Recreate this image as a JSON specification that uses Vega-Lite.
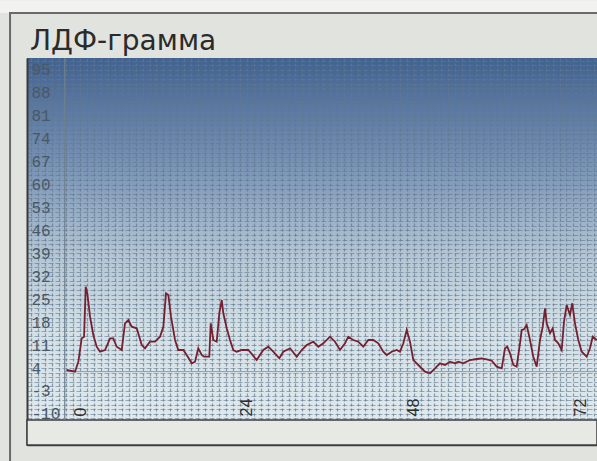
{
  "$schema": "https://vega.github.io/schema/vega-lite/v6.json",
  "width": 570,
  "height": 387,
  "autosize": {"type": "none"},
  "padding": {"left": 27, "top": 58, "right": 0, "bottom": 16},
  "background": "#e1e3df",
  "title": {"text": "ЛДФ-грамма", "anchor": "start", "frame": "group", "font": "DejaVu Sans", "fontSize": 28, "fontWeight": "normal", "color": "#2b2b2b", "offset": -3, "dx": 3, "dy": 53},
  "view": {
    "stroke": null,
    "fill": {"gradient": "linear", "x1": 0, "y1": 0, "x2": 0, "y2": 1, "stops": [
      {"offset": 0, "color": "#41618f"},
      {"offset": 0.28, "color": "#7893b5"},
      {"offset": 0.5, "color": "#b2c4d3"},
      {"offset": 0.7, "color": "#d3e0e6"},
      {"offset": 1, "color": "#e3ecef"}
    ]}
  },
  "datasets": {
    "trace": [
      {"t": -1.91, "v": 3.39}, {"t": -0.72, "v": 2.87}, {"t": -0.24, "v": 5.92}, {"t": 0.24, "v": 13.07},
      {"t": 0.58, "v": 13.56}, {"t": 0.82, "v": 28.82}, {"t": 1.05, "v": 26.81}, {"t": 1.44, "v": 19.66},
      {"t": 1.91, "v": 14.08}, {"t": 2.40, "v": 10.50}, {"t": 2.88, "v": 8.98}, {"t": 3.60, "v": 9.50},
      {"t": 4.32, "v": 13.07}, {"t": 4.79, "v": 13.07}, {"t": 5.28, "v": 10.50}, {"t": 6.00, "v": 9.50},
      {"t": 6.47, "v": 17.65}, {"t": 6.95, "v": 18.66}, {"t": 7.44, "v": 16.61}, {"t": 8.16, "v": 16.12},
      {"t": 8.88, "v": 11.02}, {"t": 9.35, "v": 10.02}, {"t": 10.07, "v": 12.03}, {"t": 10.79, "v": 12.03},
      {"t": 11.51, "v": 13.56}, {"t": 11.99, "v": 16.61}, {"t": 12.37, "v": 26.81}, {"t": 12.71, "v": 26.29},
      {"t": 13.09, "v": 19.66}, {"t": 13.67, "v": 12.55}, {"t": 14.14, "v": 9.50}, {"t": 14.86, "v": 9.50},
      {"t": 15.35, "v": 7.97}, {"t": 16.07, "v": 5.44}, {"t": 16.55, "v": 5.92}, {"t": 17.02, "v": 10.02},
      {"t": 17.51, "v": 7.97}, {"t": 17.84, "v": 7.45}, {"t": 18.60, "v": 7.45}, {"t": 18.81, "v": 17.65},
      {"t": 19.18, "v": 12.55}, {"t": 19.67, "v": 12.03}, {"t": 20.04, "v": 20.70}, {"t": 20.39, "v": 24.76},
      {"t": 20.62, "v": 20.70}, {"t": 21.11, "v": 16.12}, {"t": 21.58, "v": 12.55}, {"t": 22.06, "v": 9.50},
      {"t": 22.55, "v": 8.98}, {"t": 23.27, "v": 9.50}, {"t": 24.22, "v": 9.50}, {"t": 25.42, "v": 6.44},
      {"t": 26.37, "v": 9.50}, {"t": 27.09, "v": 10.50}, {"t": 27.81, "v": 8.98}, {"t": 28.68, "v": 6.96},
      {"t": 29.25, "v": 8.98}, {"t": 30.22, "v": 10.02}, {"t": 31.18, "v": 7.45}, {"t": 31.90, "v": 9.50},
      {"t": 32.62, "v": 11.02}, {"t": 33.57, "v": 12.03}, {"t": 34.29, "v": 10.50}, {"t": 35.01, "v": 11.54},
      {"t": 35.97, "v": 13.56}, {"t": 36.69, "v": 12.03}, {"t": 37.41, "v": 9.50}, {"t": 38.13, "v": 11.54},
      {"t": 38.60, "v": 13.56}, {"t": 39.32, "v": 12.55}, {"t": 40.04, "v": 12.03}, {"t": 40.76, "v": 10.50},
      {"t": 41.48, "v": 12.55}, {"t": 42.20, "v": 12.55}, {"t": 42.92, "v": 11.54}, {"t": 43.64, "v": 8.98},
      {"t": 44.13, "v": 7.97}, {"t": 44.85, "v": 8.98}, {"t": 45.57, "v": 9.50}, {"t": 46.04, "v": 8.98},
      {"t": 46.52, "v": 11.54}, {"t": 47.01, "v": 15.60}, {"t": 47.48, "v": 12.03}, {"t": 47.96, "v": 6.44},
      {"t": 48.68, "v": 4.92}, {"t": 49.64, "v": 2.87}, {"t": 50.36, "v": 2.38}, {"t": 51.08, "v": 3.91},
      {"t": 51.80, "v": 5.44}, {"t": 52.52, "v": 4.92}, {"t": 53.24, "v": 5.92}, {"t": 53.96, "v": 5.44},
      {"t": 54.43, "v": 5.92}, {"t": 55.15, "v": 5.44}, {"t": 56.12, "v": 6.44}, {"t": 57.08, "v": 6.75},
      {"t": 57.80, "v": 6.96}, {"t": 58.52, "v": 6.66}, {"t": 59.24, "v": 6.23}, {"t": 59.96, "v": 4.40},
      {"t": 60.68, "v": 3.91}, {"t": 61.15, "v": 10.02}, {"t": 61.48, "v": 10.50}, {"t": 61.87, "v": 8.49},
      {"t": 62.35, "v": 4.92}, {"t": 62.83, "v": 4.40}, {"t": 63.31, "v": 11.54}, {"t": 63.55, "v": 15.60},
      {"t": 63.88, "v": 15.82}, {"t": 64.27, "v": 17.13}, {"t": 64.65, "v": 13.56}, {"t": 65.22, "v": 7.45},
      {"t": 65.71, "v": 4.40}, {"t": 66.19, "v": 12.55}, {"t": 66.58, "v": 16.61}, {"t": 66.91, "v": 22.23},
      {"t": 67.15, "v": 17.65}, {"t": 67.63, "v": 14.60}, {"t": 68.01, "v": 16.12}, {"t": 68.35, "v": 12.55},
      {"t": 68.82, "v": 11.54}, {"t": 69.31, "v": 9.50}, {"t": 69.64, "v": 18.14}, {"t": 70.03, "v": 23.24},
      {"t": 70.50, "v": 20.18}, {"t": 70.83, "v": 23.76}, {"t": 71.22, "v": 17.65}, {"t": 71.70, "v": 12.55},
      {"t": 72.19, "v": 8.98}, {"t": 72.91, "v": 7.45}, {"t": 73.38, "v": 10.02}, {"t": 73.77, "v": 13.56},
      {"t": 74.35, "v": 12.55}
    ],
    "strip": [{"t1": -7.63, "t2": 74.39, "v1": -19.51, "v2": -11.88}],
    "topband": [{"t1": -12.5, "t2": 80, "v1": 112.4, "v2": 116.3}],
    "frame": [{"t1": -10.07, "t2": 80, "v1": -28, "v2": 112.4}],
    "vref": [{"t": -2.2, "v1": -11.88, "v2": 98.66}],
    "href": [{"t1": -2.2, "t2": 74.39, "v": 2.9}]
  },
  "layer": [
    {
      "data": {"name": "strip"},
      "mark": {"type": "rect", "fill": "#e7e9e5", "stroke": "#3c3c3c", "strokeWidth": 1.5},
      "encoding": {
        "x": {"field": "t1", "type": "quantitative", "scale": {"domain": [-7.63, 74.39], "nice": false, "zero": false},
          "axis": {"orient": "bottom", "title": null, "tickCount": 500, "values": [-7,-6,-5,-4,-3,-2,-1,0,1,2,3,4,5,6,7,8,9,10,11,12,13,14,15,16,17,18,19,20,21,22,23,24,25,26,27,28,29,30,31,32,33,34,35,36,37,38,39,40,41,42,43,44,45,46,47,48,49,50,51,52,53,54,55,56,57,58,59,60,61,62,63,64,65,66,67,68,69,70,71,72,73,74],
            "labelExpr": "datum.value % 24 === 0 ? '' + datum.value : ''", "labelAngle": -90, "labelAlign": "left", "labelBaseline": "middle",
            "labelPadding": -29, "labelFont": "Liberation Sans", "labelFontSize": 16, "labelColor": "#2e2e2e",
            "labelOverlap": false, "labelFlush": false, "labelBound": false, "ticks": false,
            "domain": true, "domainColor": "#3c3c3c", "domainWidth": 1.5,
            "grid": true, "gridColor": "#62788e", "gridOpacity": 0.7, "gridDash": [3, 2], "gridWidth": 1.2}},
        "x2": {"field": "t2"},
        "y": {"field": "v1", "type": "quantitative", "scale": {"domain": [-19.51, 98.66], "nice": false, "zero": false},
          "axis": {"orient": "left", "title": null, "tickCount": 500, "values": [-11.4,-10,-8.6,-7.2,-5.8,-4.4,-3,-1.6,-0.2,1.2,2.6,4,5.4,6.8,8.2,9.6,11,12.4,13.8,15.2,16.6,18,19.4,20.8,22.2,23.6,25,26.4,27.8,29.2,30.6,32,33.4,34.8,36.2,37.6,39,40.4,41.8,43.2,44.6,46,47.4,48.8,50.2,51.6,53,54.4,55.8,57.2,58.6,60,61.4,62.8,64.2,65.6,67,68.4,69.8,71.2,72.6,74,75.4,76.8,78.2,79.6,81,82.4,83.8,85.2,86.6,88,89.4,90.8,92.2,93.6,95,96.4,97.8],
            "labelExpr": "abs((datum.value + 10) / 7 - round((datum.value + 10) / 7)) < 0.01 ? '' + round(datum.value) : ''",
            "labelAlign": "left", "labelBaseline": "middle", "labelPadding": -4, "labelFont": "Liberation Mono", "labelFontSize": 16,
            "labelColor": "#4a5866", "labelOverlap": false, "labelFlush": false, "labelBound": false, "ticks": false,
            "domain": true, "domainColor": "#3a3a3a", "domainWidth": 2,
            "grid": true, "gridColor": "#62788e", "gridOpacity": 0.6, "gridDash": [5, 2], "gridWidth": 1}},
        "y2": {"field": "v2"}
      }
    },
    {
      "data": {"name": "topband"},
      "mark": {"type": "rect", "fill": "#f2f2f0", "stroke": null},
      "encoding": {
        "x": {"field": "t1", "type": "quantitative"},
        "x2": {"field": "t2"},
        "y": {"field": "v1", "type": "quantitative"},
        "y2": {"field": "v2"}
      }
    },
    {
      "data": {"name": "frame"},
      "mark": {"type": "rect", "fillOpacity": 0, "fill": "#ffffff", "stroke": "#6a6a6a", "strokeWidth": 2},
      "encoding": {
        "x": {"field": "t1", "type": "quantitative"},
        "x2": {"field": "t2"},
        "y": {"field": "v1", "type": "quantitative"},
        "y2": {"field": "v2"}
      }
    },
    {
      "data": {"name": "vref"},
      "mark": {"type": "rule", "color": "#6f808e", "strokeWidth": 1.2},
      "encoding": {
        "x": {"field": "t", "type": "quantitative"},
        "y": {"field": "v1", "type": "quantitative"},
        "y2": {"field": "v2"}
      }
    },
    {
      "data": {"name": "href"},
      "mark": {"type": "rule", "color": "#8e9ca6", "strokeWidth": 1},
      "encoding": {
        "x": {"field": "t1", "type": "quantitative"},
        "x2": {"field": "t2"},
        "y": {"field": "v", "type": "quantitative"}
      }
    },
    {
      "data": {"name": "trace"},
      "mark": {"type": "line", "color": "#752031", "strokeWidth": 1.8},
      "encoding": {
        "x": {"field": "t", "type": "quantitative"},
        "y": {"field": "v", "type": "quantitative"}
      }
    }
  ]
}
